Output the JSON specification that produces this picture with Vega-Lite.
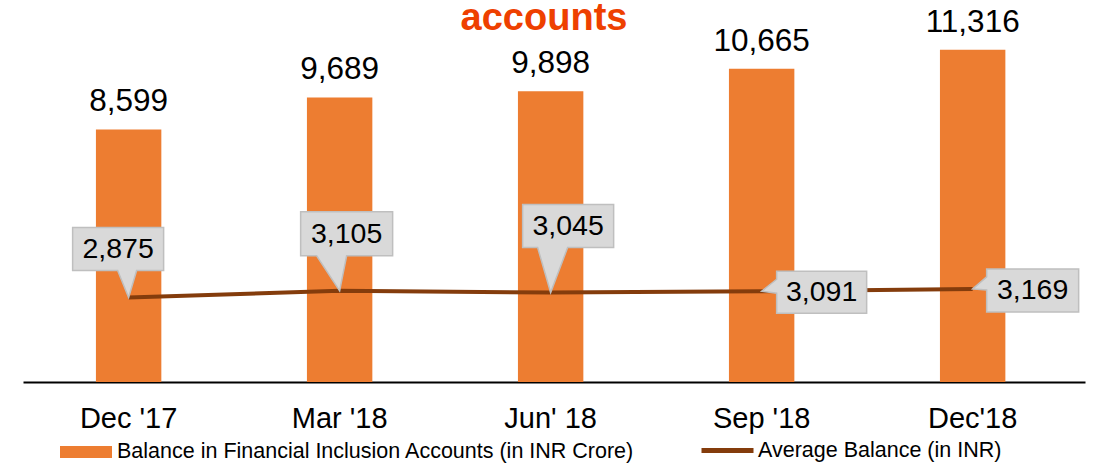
{
  "$schema": "https://vega.github.io/schema/vega-lite/v6.json",
  "width": 1062,
  "height": 342,
  "autosize": "none",
  "padding": {"left": 23, "top": 40, "right": 9, "bottom": 87},
  "background": "white",
  "config": {
    "view": {"stroke": null},
    "font": "Liberation Sans",
    "text": {"font": "Liberation Sans"}
  },
  "title": {
    "text": "accounts",
    "anchor": "middle",
    "orient": "top",
    "offset": -31,
    "dx": -10,
    "font": "Liberation Sans",
    "fontSize": 38,
    "fontWeight": "bold",
    "color": "#EE4000"
  },
  "data": {
    "values": [
      {"month": "Dec '17", "balance": 8599, "avg": 2875},
      {"month": "Mar '18", "balance": 9689, "avg": 3105},
      {"month": "Jun' 18", "balance": 9898, "avg": 3045},
      {"month": "Sep '18", "balance": 10665, "avg": 3091},
      {"month": "Dec'18", "balance": 11316, "avg": 3169}
    ]
  },
  "encoding": {
    "x": {
      "field": "month",
      "type": "nominal",
      "sort": null,
      "scale": {"paddingInner": 0.69, "paddingOuter": 0.3615, "align": 0.478},
      "axis": {
        "title": null,
        "labelAngle": 0,
        "labelFontSize": 29,
        "labelFont": "Liberation Sans",
        "labelColor": "#000000",
        "labelPadding": 22,
        "ticks": false,
        "domainColor": "#000000",
        "domainWidth": 2,
        "grid": false
      }
    }
  },
  "layer": [
    {
      "mark": {"type": "bar"},
      "encoding": {
        "y": {"field": "balance", "type": "quantitative", "scale": {"domain": [0, 11645], "nice": false, "zero": true}, "axis": null},
        "fill": {
          "datum": "Balance in Financial Inclusion Accounts (in INR Crore)",
          "type": "nominal",
          "scale": {"range": ["#ED7D31"]},
          "legend": {
            "orient": "none",
            "legendX": 37,
            "legendY": 386,
            "title": null,
            "padding": 0,
            "symbolType": "M-1,-0.23H1V0.23H-1Z",
            "symbolSize": 2704,
            "symbolStrokeWidth": 0,
            "labelFontSize": 21.5,
            "labelFont": "Liberation Sans",
            "labelColor": "#000000",
            "labelOffset": 5,
            "labelLimit": 900
          }
        }
      }
    },
    {
      "mark": {"type": "line", "strokeWidth": 4},
      "encoding": {
        "y": {"field": "avg", "type": "quantitative"},
        "stroke": {
          "datum": "Average Balance (in INR)",
          "type": "nominal",
          "scale": {"range": ["#843C0C"]},
          "legend": {
            "orient": "none",
            "legendX": 676,
            "legendY": 382,
            "title": null,
            "padding": 0,
            "symbolType": "stroke",
            "symbolSize": 2704,
            "symbolStrokeWidth": 5,
            "labelFontSize": 21.5,
            "labelFont": "Liberation Sans",
            "labelColor": "#000000",
            "labelOffset": 2,
            "labelLimit": 900
          }
        }
      }
    },
    {
      "mark": {"type": "point", "filled": true, "size": 4, "fill": "#D9D9D9", "stroke": "#BFBFBF", "strokeWidth": 1.5, "opacity": 1, "fillOpacity": 1, "strokeOpacity": 1},
      "encoding": {
        "y": {"field": "avg", "type": "quantitative"},
        "shape": {
          "field": "month",
          "type": "nominal",
          "scale": {
            "domain": ["Dec '17", "Mar '18", "Jun' 18", "Sep '18", "Dec'18"],
            "range": [
              "M-56,-70H35V-27H8L0,0L-11,-27H-56Z",
              "M-39,-79H53V-35H7L0,0L-23,-35H-39Z",
              "M-28,-88H63V-45H17L0,0L-13,-45H-28Z",
              "M15,-20H105V22H15V2L0,0L15,-12Z",
              "M14,-20H106V23H14V1L0,0L14,-12Z"
            ]
          },
          "legend": null
        }
      }
    },
    {
      "transform": [{"filter": {"field": "month", "equal": "Dec '17"}}],
      "mark": {"type": "text", "fontSize": 28.5, "color": "#000000", "baseline": "middle", "align": "center", "dx": -10.5, "dy": -48.5},
      "encoding": {"y": {"field": "avg", "type": "quantitative"}, "text": {"field": "avg", "type": "quantitative", "format": ","}}
    },
    {
      "transform": [{"filter": {"field": "month", "equal": "Mar '18"}}],
      "mark": {"type": "text", "fontSize": 28.5, "color": "#000000", "baseline": "middle", "align": "center", "dx": 7, "dy": -57},
      "encoding": {"y": {"field": "avg", "type": "quantitative"}, "text": {"field": "avg", "type": "quantitative", "format": ","}}
    },
    {
      "transform": [{"filter": {"field": "month", "equal": "Jun' 18"}}],
      "mark": {"type": "text", "fontSize": 28.5, "color": "#000000", "baseline": "middle", "align": "center", "dx": 17.5, "dy": -66.5},
      "encoding": {"y": {"field": "avg", "type": "quantitative"}, "text": {"field": "avg", "type": "quantitative", "format": ","}}
    },
    {
      "transform": [{"filter": {"field": "month", "equal": "Sep '18"}}],
      "mark": {"type": "text", "fontSize": 28.5, "color": "#000000", "baseline": "middle", "align": "center", "dx": 60, "dy": 1},
      "encoding": {"y": {"field": "avg", "type": "quantitative"}, "text": {"field": "avg", "type": "quantitative", "format": ","}}
    },
    {
      "transform": [{"filter": {"field": "month", "equal": "Dec'18"}}],
      "mark": {"type": "text", "fontSize": 28.5, "color": "#000000", "baseline": "middle", "align": "center", "dx": 60, "dy": 1.5},
      "encoding": {"y": {"field": "avg", "type": "quantitative"}, "text": {"field": "avg", "type": "quantitative", "format": ","}}
    },
    {
      "mark": {"type": "text", "fontSize": 31.5, "color": "#000000", "baseline": "alphabetic", "align": "center", "dy": -18},
      "encoding": {"y": {"field": "balance", "type": "quantitative"}, "text": {"field": "balance", "type": "quantitative", "format": ","}}
    }
  ]
}
